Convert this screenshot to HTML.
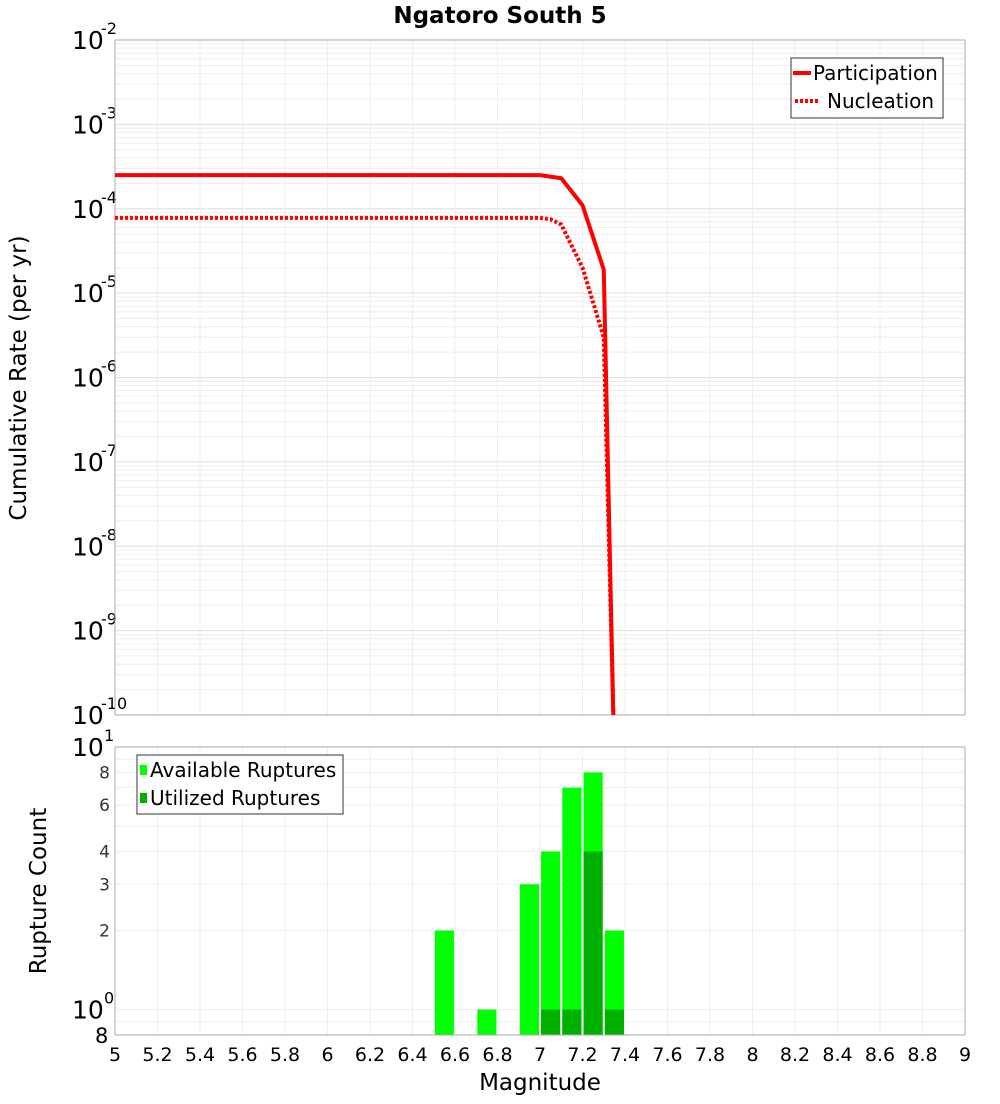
<!DOCTYPE html>
<html><head><meta charset="utf-8"><style>
body{margin:0;background:#fff;font-family:"DejaVu Sans","Liberation Sans",sans-serif;}
svg text{font-family:"DejaVu Sans","Liberation Sans",sans-serif;}
</style></head><body>
<svg id="c" width="1000" height="1100" xmlns="http://www.w3.org/2000/svg">
<text x="500" y="23" text-anchor="middle" font-size="23" font-weight="bold">Ngatoro South 5</text>
<g id="topg"></g>
<g id="botg"></g>
<text transform="translate(26,378) rotate(-90)" text-anchor="middle" font-size="23">Cumulative Rate (per yr)</text>
<text transform="translate(46,891) rotate(-90)" text-anchor="middle" font-size="23">Rupture Count</text>
<text x="540" y="1090" text-anchor="middle" font-size="23">Magnitude</text>
<g>
<rect x="791" y="58" width="152" height="60" fill="#fff" stroke="#333"/>
<line x1="793" y1="73" x2="811" y2="73" stroke="red" stroke-width="4"/>
<text x="813" y="80" font-size="20">Participation</text>
<line x1="795" y1="101" x2="820" y2="101" stroke="red" stroke-width="4" stroke-dasharray="3,2"/>
<text x="827" y="108" font-size="20">Nucleation</text>
</g>
<g>
<rect x="137" y="755" width="206" height="59" fill="#fff" stroke="#333"/>
<rect x="140" y="765" width="7" height="10" fill="#00ff00"/>
<text x="150" y="777" font-size="20">Available Ruptures</text>
<rect x="140" y="793" width="7" height="10" fill="#00b000"/>
<text x="150" y="805" font-size="20">Utilized Ruptures</text>
</g>
</svg>
<script>
const partM=[5,5.1,5.2,5.3,5.4,5.5,5.6,5.7,5.8,5.9,6,6.1,6.2,6.3,6.4,6.5,6.6,6.7,6.8,6.9,7.0,7.1,7.2,7.3,7.345];
const partR=[2.5e-4,2.5e-4,2.5e-4,2.5e-4,2.5e-4,2.5e-4,2.5e-4,2.5e-4,2.5e-4,2.5e-4,2.5e-4,2.5e-4,2.5e-4,2.5e-4,2.5e-4,2.5e-4,2.5e-4,2.5e-4,2.5e-4,2.5e-4,2.5e-4,2.3e-4,1.1e-4,1.9e-5,1e-10];
const nuclM=[5,5.5,6,6.5,7.0,7.05,7.1,7.2,7.3,7.345];
const nuclR=[7.8e-5,7.8e-5,7.8e-5,7.8e-5,7.8e-5,7.5e-5,6.5e-5,2e-5,3e-6,1e-10];
const binStart=[6.5,6.7,6.9,7.0,7.1,7.2,7.3];
const available=[2,1,3,4,7,8,2];
const utilized=[0,0,0,1,1,4,1];
const xTicks=[5,5.2,5.4,5.6,5.8,6,6.2,6.4,6.6,6.8,7,7.2,7.4,7.6,7.8,8,8.2,8.4,8.6,8.8,9];
const topExp=[-2,-3,-4,-5,-6,-7,-8,-9,-10];
const botTicks=[2,3,4,6,8];

const NS="http://www.w3.org/2000/svg";
const X0=115,X1=965;
const xs=m=>X0+(m-5)/4*(X1-X0);
const T0=40,T1=715;
const yt=r=>T0+(-2-Math.log10(r))/8*(T1-T0);
const B0=747,B1=1035,LB=Math.log10(0.8);
const yb=v=>B1-(Math.log10(v)-LB)/(1-LB)*(B1-B0);
function mk(p,tag,a){const e=document.createElementNS(NS,tag);for(const k in a)e.setAttribute(k,a[k]);p.appendChild(e);return e;}
const topG=document.getElementById('topg'),botG=document.getElementById('botg');
for(let d=-10;d<-2;d++)for(let k=1;k<10;k++){const y=yt(k*Math.pow(10,d));
 const l=mk(topG,'line',{x1:X0,x2:X1,y1:y,y2:y,stroke:k==1?'#ddd':'#eee'});
 
 }
xTicks.forEach(m=>{const g=mk(topG,'line',{x1:xs(m),x2:xs(m),y1:T0,y2:T1,stroke:'#eee'});
 
 
 const g2=mk(botG,'line',{x1:xs(m),x2:xs(m),y1:B0,y2:B1,stroke:'#eee'});
 
 });
topExp.forEach(e=>{const y=yt(Math.pow(10,e));
 const t=mk(topG,'text',{x:72,y:y+9,'font-size':25});t.textContent='10';
 
 
 const s=mk(topG,'text',{x:101,y:y-6,'font-size':16});s.textContent=String(e);
 
 });
mk(topG,'rect',{x:X0,y:T0,width:X1-X0,height:T1-T0,fill:'none',stroke:'#aaa'});
const pp=partM.map((m,i)=>xs(m)+','+yt(partR[i])).join(' ');
const pl=mk(topG,'polyline',{points:pp,fill:'none',stroke:'red','stroke-width':4});


const np=nuclM.map((m,i)=>xs(m)+','+yt(nuclR[i])).join(' ');
const nl=mk(topG,'polyline',{points:np,fill:'none',stroke:'red','stroke-width':4,'stroke-dasharray':'3,2'});


[0.8,0.9,1,2,3,4,5,6,7,8,9,10].forEach(v=>{const y=yb(v);
 const l=mk(botG,'line',{x1:X0,x2:X1,y1:y,y2:y,stroke:'#eee'});
 
 });
botTicks.forEach(v=>{const t=mk(botG,'text',{x:110,y:yb(v)+6,'font-size':17,'text-anchor':'end',fill:'#333'});t.textContent=v;
 
 });
[[1,'0'],[10,'1']].forEach(([v,e])=>{const y=yb(v);
 const t=mk(botG,'text',{x:72,y:y+9,'font-size':25});t.textContent='10';
 
 
 const s=mk(botG,'text',{x:104,y:y-6,'font-size':16});s.textContent=e;
 
 });
{const t=mk(botG,'text',{x:95,y:1043,'font-size':21});t.textContent='8';
 
 }
binStart.forEach((b,i)=>{const x=xs(b+0.005),w=xs(b+0.095)-x;
 const a=mk(botG,'rect',{x:x,y:yb(available[i]),width:w,height:B1-yb(available[i]),fill:'#00ff00'});
 
 
 if(utilized[i]>0){const u=mk(botG,'rect',{x:x,y:yb(utilized[i]),width:w,height:B1-yb(utilized[i]),fill:'#00b000'});
 
 }});
mk(botG,'rect',{x:X0,y:B0,width:X1-X0,height:B1-B0,fill:'none',stroke:'#aaa'});
xTicks.forEach(m=>{const t=mk(botG,'text',{x:xs(m),y:1061,'font-size':19,'text-anchor':'middle'});t.textContent=String(m);
 
 });
</script>
</body></html>
